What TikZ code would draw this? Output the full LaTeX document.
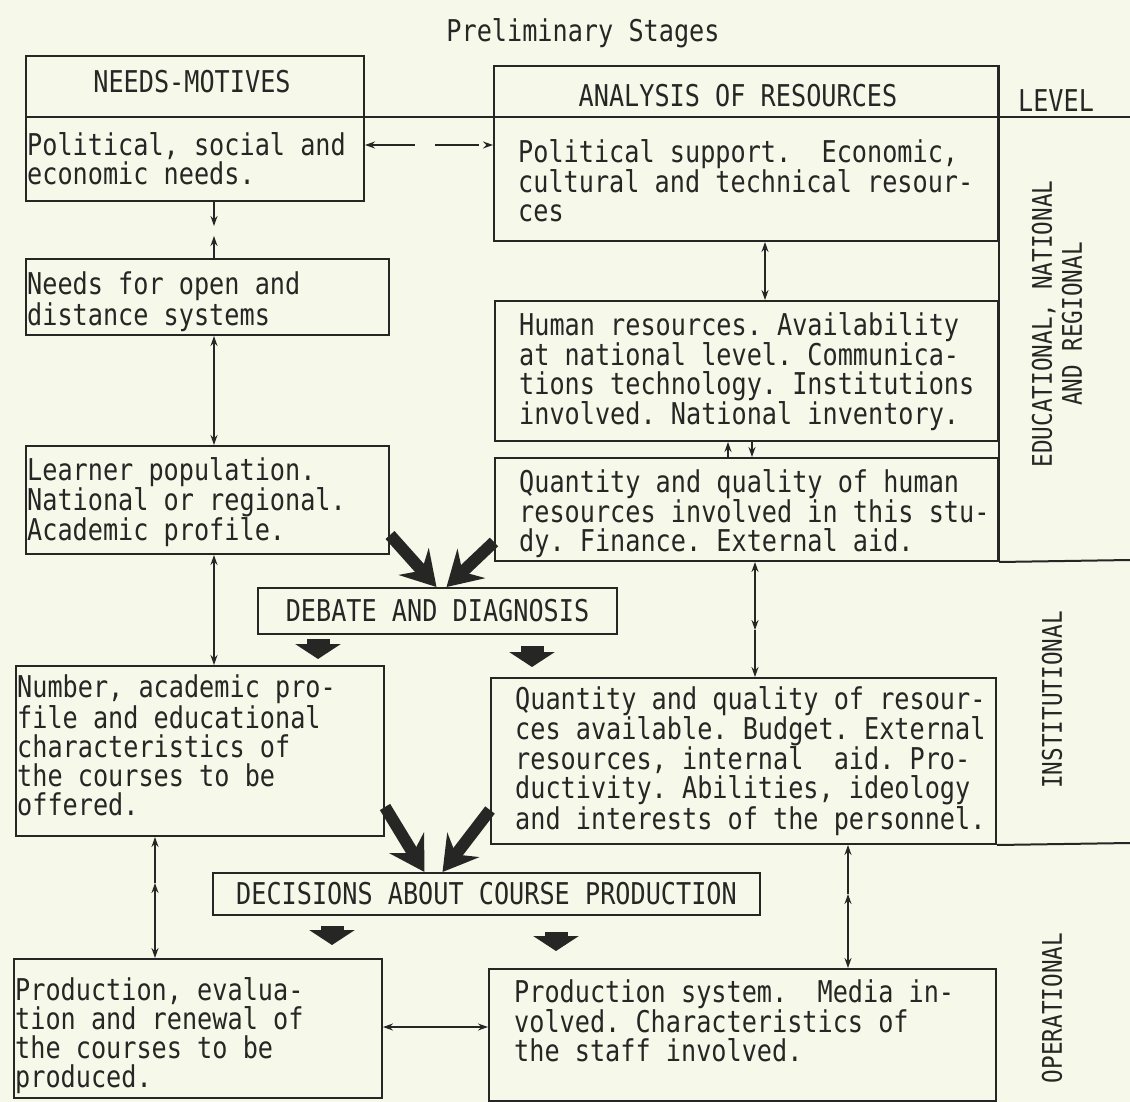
\documentclass[tikz,border=0pt]{standalone}
\usepackage{fontspec}
\newfontfamily\typewriter[FakeStretch=0.84]{DejaVu Sans Mono}
\usetikzlibrary{arrows.meta,positioning}
\definecolor{paper}{RGB}{246,248,234}
\definecolor{ink}{RGB}{38,38,36}
\newcommand{\bodysize}{\fontsize{30}{29}\selectfont}
\newcommand{\levelsize}{\fontsize{27}{30}\selectfont}
\tikzstyle{pannello} = [rectangle,draw=ink,line width=2pt,inner sep=0pt,anchor=north west,text=ink,font=\typewriter\bodysize]
\tikzstyle{testo} = [anchor=north west,align=left,inner sep=0pt,text=ink,font=\typewriter\bodysize]
\tikzstyle{intestazione} = [anchor=base,inner sep=0pt,text=ink,font=\typewriter\bodysize]
\tikzstyle{livello} = [rotate=90,align=center,inner sep=0pt,text=ink,font=\typewriter\levelsize]
\tikzstyle{linea} = [draw=ink,line width=2pt]
\tikzstyle{freccia} = [ink,line width=1.4pt,-{Stealth[length=10pt,width=7pt]}]
\tikzstyle{doppia} = [ink,line width=1.4pt,{Stealth[length=10pt,width=7pt]}-{Stealth[length=10pt,width=7pt]}]
\tikzstyle{frecciona} = [ink,line width=12pt,-{Stealth[length=34pt,width=40pt,inset=12pt]}]
\tikzstyle{blocco} = [ink,line width=23pt,-{Triangle[length=15pt,width=45pt]}]

\begin{document}
\frenchspacing
\begin{tikzpicture}[x=1pt,y=-1pt]
\useasboundingbox (0,0) rectangle (1130,1102);
\fill[paper] (0,0) rectangle (1130,1102);

\node (title) [intestazione] at (583,42) {Preliminary Stages};

% left column
\node (needs)   [pannello,minimum width=338,minimum height=145] at (25,55) {};
\node (open)    [pannello,minimum width=363,minimum height=76]  at (25,258) {};
\node (learner) [pannello,minimum width=363,minimum height=108] at (25,445) {};
\node (number)  [pannello,minimum width=368,minimum height=170] at (15,665) {};
\node (prodL)   [pannello,minimum width=368,minimum height=139] at (13,958) {};

% right column
\node (anal)  [pannello,minimum width=504,minimum height=175] at (493,65) {};
\node (human) [pannello,minimum width=503,minimum height=140] at (494,300) {};
\node (quant) [pannello,minimum width=503,minimum height=103] at (494,457) {};
\node (inst)  [pannello,minimum width=505,minimum height=166] at (490,677) {};
\node (prodS) [pannello,minimum width=507,minimum height=132] at (488,968) {};

% middle
\node (debate) [pannello,anchor=center,minimum width=359,minimum height=46] at (437.5,611) {DEBATE AND DIAGNOSIS};
\node (decide) [pannello,anchor=center,minimum width=547,minimum height=42] at (486.5,894) {DECISIONS ABOUT COURSE PRODUCTION};

% headers
\node (needsH) [intestazione] at (192,93) {NEEDS-MOTIVES};
\node (analH)  [intestazione] at (738,107) {ANALYSIS OF RESOURCES};
\node (levelH) [intestazione] at (1056,112) {LEVEL};

% texts
\node (needsT)   [testo,below right=77pt and 2pt of needs.north west] {Political, social and\\economic needs.};
\node (openT)    [testo,below right=14pt and 2pt of open.north west] {Needs for open and\\distance systems};
\node (learnerT) [testo,below right=12pt and 2pt of learner.north west] {Learner population.\\National or regional.\\Academic profile.};
\node (numberT)  [testo,below right=10pt and 2pt of number.north west] {Number, academic pro-\\file and educational\\characteristics of\\the courses to be\\offered.};
\node (prodLT)   [testo,below right=19pt and 2pt of prodL.north west] {Production, evalua-\\tion and renewal of\\the courses to be\\produced.};
\node (analT)    [testo,below right=74pt and 25pt of anal.north west] {Political support.\ \ Economic,\\cultural and technical resour-\\ces};
\node (humanT)   [testo,below right=12pt and 25pt of human.north west] {Human resources. Availability\\at national level. Communica-\\tions technology. Institutions\\involved. National inventory.};
\node (quantT)   [testo,below right=12pt and 25pt of quant.north west] {Quantity and quality of human\\resources involved in this stu-\\dy. Finance. External aid.};
\node (instT)    [testo,below right=9pt and 25pt of inst.north west] {Quantity and quality of resour-\\ces available. Budget. External\\resources, internal\ \ aid. Pro-\\ductivity. Abilities, ideology\\and interests of the personnel.};
\node (prodST)   [testo,below right=11pt and 26pt of prodS.north west] {Production system.\ \ Media in-\\volved. Characteristics of\\the staff involved.};

% levels
\node (eduL)  [livello] at (1057,324) {EDUCATIONAL, NATIONAL\\AND REGIONAL};
\node (instL) [livello] at (1052,700) {INSTITUTIONAL};
\node (operL) [livello] at (1052,1008) {OPERATIONAL};

\coordinate (lvlA) at (1130,117);
\coordinate (lvlB) at (1130,560);
\coordinate (lvlC) at (1130,843);
\draw[linea] (needs.west |- lvlA) -- (lvlA);
\draw[linea] (anal.north east) -- (quant.south east);
\draw[linea] (quant.south east) -- (lvlB);
\draw[linea] (inst.south east) -- (lvlC);

% thin arrows
\coordinate (m1) at (214,231);
\coordinate (m2) at (155,883);
\coordinate (m3) at (765,270);
\coordinate (m5) at (755,630);
\coordinate (m6) at (848,894);
\coordinate (m7) at (435,1027);
\coordinate (m8) at (430,145);

\draw[freccia,shorten >=5pt] (needs.south -| m1) -- (m1);
\draw[freccia,shorten >=5pt] (open.north -| m1) -- (m1);
\draw[doppia] (open.south -| m1) -- (learner.north -| m1);
\draw[doppia] (learner.south -| m1) -- (number.north -| m1);
\draw[freccia] (m2) -- (number.south -| m2);
\draw[doppia] (prodL.north -| m2) -- (m2);

\draw[doppia,dash pattern=on 44pt off 20pt] (needs.east |- m8) -- (anal.west |- m8);
\draw[doppia] (anal.south -| m3) -- (human.north -| m3);
\draw[freccia] ([xshift=234pt]quant.north west) -- ([xshift=234pt]human.south west);
\draw[freccia] ([xshift=258pt]human.south west) -- ([xshift=258pt]quant.north west);
\draw[doppia] (quant.south -| m5) -- (m5);
\draw[freccia] (m5) -- (inst.north -| m5);
\draw[freccia] (m6) -- (inst.south -| m6);
\draw[doppia] (prodS.north -| m6) -- (m6);
\draw[doppia] (prodL.east |- m7) -- (prodS.west |- m7);

% heavy arrows
\draw[frecciona] ([yshift=20pt]learner.south east) -- ([xshift=-1pt]debate.north);
\draw[frecciona] ([yshift=20pt]quant.south west) -- ([xshift=9pt]debate.north);
\draw[frecciona] ([yshift=30pt]number.south east) -- ([xshift=-62pt]decide.north);
\draw[frecciona] ([yshift=35pt]inst.south west) -- ([xshift=-44pt]decide.north);

\coordinate (bk1) at (318,650);
\coordinate (bk2) at (532,655);
\coordinate (bk3) at (332,935);
\coordinate (bk4) at (556,940);
\draw[blocco,shorten <=4pt,shorten >=6pt] (debate.south -| bk1) -- (number.north -| bk1);
\draw[blocco,shorten <=11pt,shorten >=10pt] (debate.south -| bk2) -- (inst.north -| bk2);
\draw[blocco,shorten <=10pt,shorten >=13pt] (decide.south -| bk3) -- (prodL.north -| bk3);
\draw[blocco,shorten <=16pt,shorten >=17pt] (decide.south -| bk4) -- (prodS.north -| bk4);

\end{tikzpicture}
\end{document}
